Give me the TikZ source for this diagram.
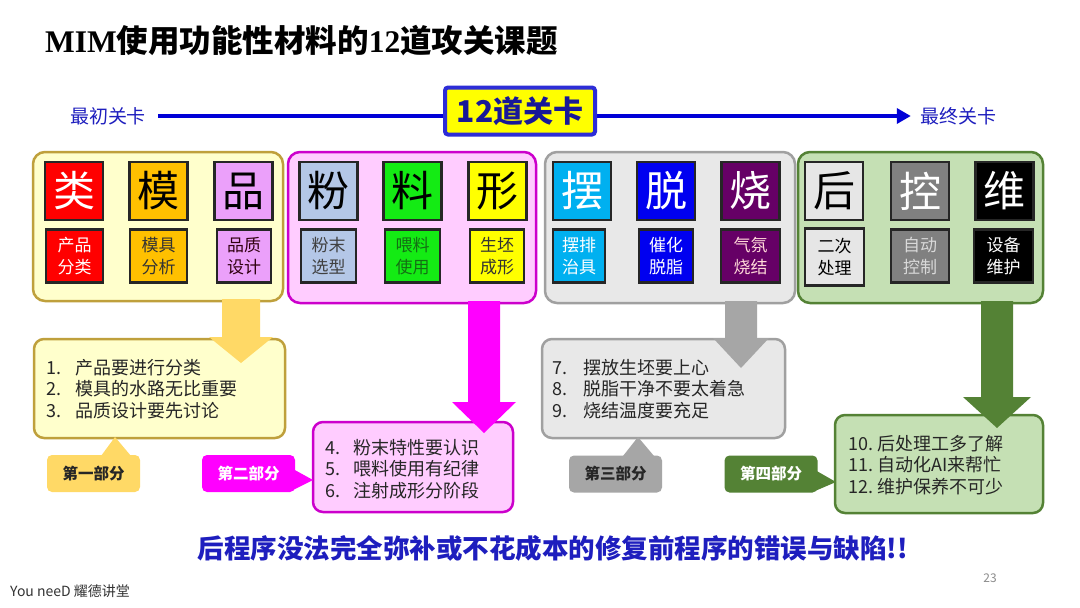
\documentclass[tikz,border=0pt]{standalone}
\usepackage{fontspec}
\setmainfont{Noto Sans CJK SC}
\newfontfamily\tnr{Liberation Serif}
\usetikzlibrary{arrows.meta}
\definecolor{pyfill}{RGB}{255,255,204}
\definecolor{pydraw}{RGB}{191,160,60}
\definecolor{ppfill}{RGB}{255,204,255}
\definecolor{ppdraw}{RGB}{204,0,204}
\definecolor{grfill}{RGB}{232,232,232}
\definecolor{grdraw}{RGB}{160,160,160}
\definecolor{gnfill}{RGB}{197,224,180}
\definecolor{gndraw}{RGB}{84,130,53}
\definecolor{yarrow}{RGB}{255,217,102}
\definecolor{marrow}{RGB}{255,0,255}
\definecolor{garrow}{RGB}{166,166,166}
\definecolor{narrow}{RGB}{84,130,53}
\definecolor{cred}{RGB}{255,0,0}
\definecolor{corange}{RGB}{255,192,0}
\definecolor{cpink}{RGB}{235,160,250}
\definecolor{csteel}{RGB}{180,199,231}
\definecolor{cgreen}{RGB}{20,235,20}
\definecolor{cyellow}{RGB}{255,255,0}
\definecolor{ccyan}{RGB}{0,176,240}
\definecolor{cblue}{RGB}{0,0,240}
\definecolor{cpurple}{RGB}{102,0,102}
\definecolor{clgray}{RGB}{230,230,230}
\definecolor{cmgray}{RGB}{128,128,128}
\definecolor{tblue}{RGB}{30,30,190}
\definecolor{lineblue}{RGB}{0,0,215}
\definecolor{boxblue}{RGB}{45,45,215}
\definecolor{dkgreen}{RGB}{20,110,20}
\begin{document}
\begin{tikzpicture}[x=1pt,y=-1pt,
  panel/.style={rounded corners=12, line width=2.5, inner sep=0},
  bigsq/.style={draw=black!85, line width=2.5, minimum width=58, minimum height=58, inner sep=0, font=\fontsize{42}{42}\selectfont},
  smsq/.style={draw=black!85, line width=2.5, minimum width=55, minimum height=53, inner sep=0, align=center, font=\fontsize{17}{22}\selectfont},
  listbox/.style={rounded corners=10, line width=2.5, inner sep=0},
  listtext/.style={anchor=west, align=left, inner sep=0, font=\fontsize{18}{21.5}\selectfont, text=black!85},
  tag/.style={rounded corners=5, inner sep=0, minimum width=93, minimum height=37, font=\fontsize{15.5}{16}\selectfont\bfseries},
  side/.style={font=\fontsize{19}{19}\selectfont, text=tblue, inner sep=0}
]
\useasboundingbox (0,0) rectangle (1080,608);
\fill[white] (0,0) rectangle (1080,608);

% title
\node[anchor=west, inner sep=0, font=\fontsize{31.5}{31.5}\selectfont\bfseries] (title) at (45,41) {{\tnr\bfseries MIM}使用功能性材料的{\tnr\bfseries 12}道攻关课题};

% timeline
\node[side] (first) at (108,116) {最初关卡};
\node[side] (last) at (958,116) {最终关卡};
\draw[line width=4, lineblue, -{Triangle[length=14,width=15]}] ([xshift=12]first.east) -- ([xshift=-9]last.west);
\node[draw=boxblue, fill=cyellow, line width=4, rounded corners=3, minimum width=150, minimum height=47, inner sep=0, font=\fontsize{30}{30}\selectfont\bfseries, text=tblue!80!black] (gate) at (520,111) {12道关卡};

% panels
\node[panel, fill=pyfill, draw=pydraw, minimum width=250, minimum height=149] (p1) at (158,226.5) {};
\node[panel, fill=ppfill, draw=ppdraw, minimum width=248, minimum height=151] (p2) at (412,227.5) {};
\node[panel, fill=grfill, draw=grdraw, minimum width=250, minimum height=151] (p3) at (670,227.5) {};
\node[panel, fill=gnfill, draw=gndraw, minimum width=245, minimum height=151] (p4) at (920.5,227.5) {};

% big squares
\node[bigsq, fill=cred, text=white] (b1) at (74,191) {类};
\node[bigsq, fill=corange, text=black] (b2) at (158.5,191) {模};
\node[bigsq, fill=cpink, text=black] (b3) at (243.5,191) {品};
\node[bigsq, fill=csteel, text=black] (b4) at (328.5,191) {粉};
\node[bigsq, fill=cgreen, text=black] (b5) at (412.5,191) {料};
\node[bigsq, fill=cyellow, text=black] (b6) at (497.5,191) {形};
\node[bigsq, fill=ccyan, text=white] (b7) at (582,191) {摆};
\node[bigsq, fill=cblue, text=white] (b8) at (666,191) {脱};
\node[bigsq, fill=cpurple, text=white] (b9) at (750.5,191) {烧};
\node[bigsq, fill=clgray, text=black] (b10) at (834,191) {后};
\node[bigsq, fill=cmgray, text=white] (b11) at (920,191) {控};
\node[bigsq, fill=black, text=white] (b12) at (1004.5,191) {维};

% small squares
\node[smsq, fill=cred, text=white, minimum width=57] (s1) at (74.5,256) {产品\\分类};
\node[smsq, fill=corange, text=black!80, minimum width=57] (s2) at (158.5,256) {模具\\分析};
\node[smsq, fill=cpink, text=black!75!purple, minimum width=54] (s3) at (244,256) {品质\\设计};
\node[smsq, fill=csteel, text=black!75] (s4) at (328.5,256) {粉末\\选型};
\node[smsq, fill=cgreen, text=dkgreen] (s5) at (412.5,256) {喂料\\使用};
\node[smsq, fill=cyellow, text=black!80, minimum width=54] (s6) at (497,256) {生坯\\成形};
\node[smsq, fill=ccyan, text=white, minimum width=52] (s7) at (579,256) {摆排\\治具};
\node[smsq, fill=cblue, text=white, minimum width=54] (s8) at (666,256) {催化\\脱脂};
\node[smsq, fill=cpurple, text=pink!60!white, minimum width=59] (s9) at (750.5,256) {气氛\\烧结};
\node[smsq, fill=clgray, text=black, minimum width=59, minimum height=57] (s10) at (834.5,257) {二次\\处理};
\node[smsq, fill=cmgray, text=black!15, minimum width=58] (s11) at (920,256) {自动\\控制};
\node[smsq, fill=black, text=white, minimum width=59] (s12) at (1003.5,256) {设备\\维护};

% list boxes
\node[listbox, fill=pyfill, draw=pydraw, minimum width=251, minimum height=99] (l1) at (159.5,388.5) {};
\node[listbox, fill=ppfill, draw=ppdraw, minimum width=200, minimum height=90] (l2) at (413,467) {};
\node[listbox, fill=grfill, draw=grdraw, minimum width=243, minimum height=99] (l3) at (663.5,388.5) {};
\node[listbox, fill=gnfill, draw=gndraw, minimum width=208, minimum height=98] (l4) at (939,464) {};

% block arrows
\fill[yarrow] (222,299) -- (222,337) -- (209,337) -- (241,363) -- (273,337) -- (260,337) -- (260,299) -- cycle;
\fill[marrow] (468,301) -- (468,402) -- (452,402) -- (484,433) -- (516,402) -- (500,402) -- (500,301) -- cycle;
\fill[garrow] (725,301) -- (725,338) -- (713,338) -- (741,368) -- (769,338) -- (757,338) -- (757,301) -- cycle;
\fill[narrow] (981,301) -- (981,397) -- (963,397) -- (997,428) -- (1031,397) -- (1013,397) -- (1013,301) -- cycle;

% list texts
\node[listtext] (t1) at (46,389) {\makebox[29pt][l]{1.}产品要进行分类\\\makebox[29pt][l]{2.}模具的水路无比重要\\\makebox[29pt][l]{3.}品质设计要先讨论};
\node[listtext] (t2) at (325,469) {\makebox[28pt][l]{4.}粉末特性要认识\\\makebox[28pt][l]{5.}喂料使用有纪律\\\makebox[28pt][l]{6.}注射成形分阶段};
\node[listtext] (t3) at (552,389) {\makebox[31pt][l]{7.}摆放生坯要上心\\\makebox[31pt][l]{8.}脱脂干净不要太着急\\\makebox[31pt][l]{9.}烧结温度要充足};
\node[listtext] (t4) at (848,465) {\makebox[29pt][l]{10.}后处理工多了解\\\makebox[29pt][l]{11.}自动化AI来帮忙\\\makebox[29pt][l]{12.}维护保养不可少};

% tags
\node[tag, fill=yarrow, text=black!85] (g1) at (93.5,473.5) {第一部分};
\fill[yarrow] (101,456) -- (115,437) -- (131,456) -- cycle;
\node[tag, fill=marrow, text=white] (g2) at (248.5,473.5) {第二部分};
\fill[marrow] (293,469) -- (313,480) -- (293,490) -- cycle;
\node[tag, fill=garrow, text=black!85] (g3) at (615.5,474) {第三部分};
\fill[garrow] (623,456) -- (638,437) -- (654,456) -- cycle;
\node[tag, fill=narrow, text=white] (g4) at (771,474) {第四部分};
\fill[narrow] (815,470) -- (836,482) -- (815,491) -- cycle;

% bottom
\node[inner sep=0, font=\fontsize{26.5}{26.5}\selectfont\bfseries, text=tblue] (msg) at (553,548) {后程序没法完全弥补或不花成本的修复前程序的错误与缺陷!!};
\node[anchor=west, inner sep=0, font=\fontsize{14}{14}\selectfont, text=black!80] (foot) at (10,591) {You neeD 耀德讲堂};
\node[inner sep=0, font=\fontsize{12}{12}\selectfont, text=black!45] (pg) at (990,578) {23};
\end{tikzpicture}
\end{document}
